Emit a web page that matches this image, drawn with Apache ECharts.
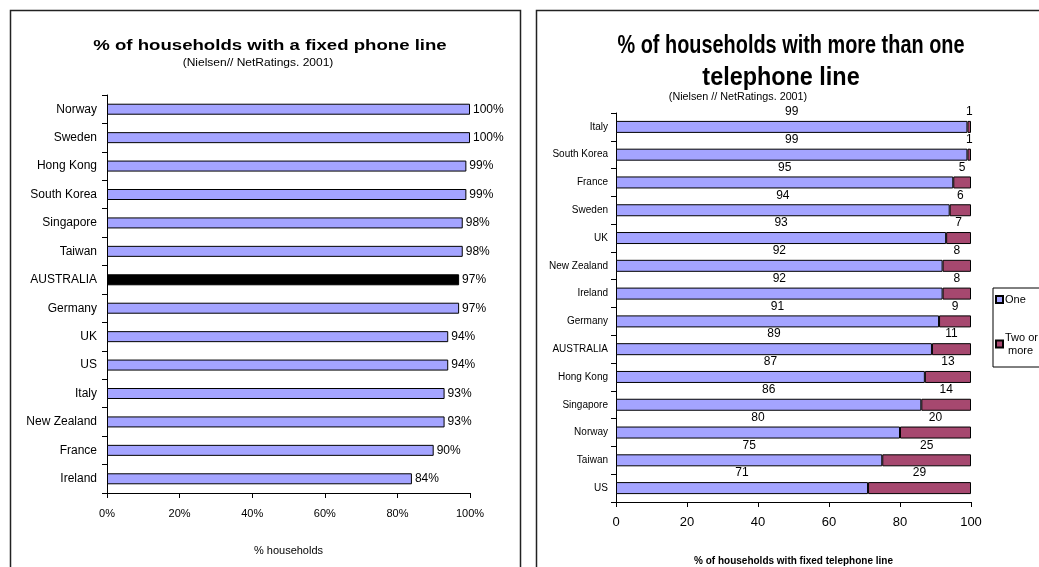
<!DOCTYPE html>
<html>
<head>
<meta charset="utf-8">
<script src="https://cdn.jsdelivr.net/npm/echarts@6/dist/echarts.min.js"></script>
<style>
html,body{margin:0;padding:0;background:#fff;}
#c{width:1039px;height:567px;}
</style>
</head>
<body>
<div id="c"></div>
<script>
// Left chart data
var fixedCategories = ['Norway','Sweden','Hong Kong','South Korea','Singapore','Taiwan','AUSTRALIA','Germany','UK','US','Italy','New Zealand','France','Ireland'];
var fixedValues = [100,100,99,99,98,98,97,97,94,94,93,93,90,84];
var pctTicks = [0,20,40,60,80,100];

// Right chart data
var multiCategories = ['Italy','South Korea','France','Sweden','UK','New Zealand','Ireland','Germany','AUSTRALIA','Hong Kong','Singapore','Norway','Taiwan','US'];
var oneLine = [99,99,95,94,93,92,92,91,89,87,86,80,75,71];
var twoOrMore = [1,1,5,6,7,8,8,9,11,13,14,20,25,29];
var seriesNames = ['One','Two or more'];

var BLUE = '#a4a4ff', PURPLE = '#a6486f';
var ARIAL = 'Liberation Sans, Arial, sans-serif';
var NARROW = 'Liberation Sans Narrow, Liberation Sans, Arial, sans-serif';

var chart = echarts.init(document.getElementById('c'), null, {renderer:'canvas'});

var axisLine = {show:true, lineStyle:{color:'#000', width:1}};
var tick = {show:true, length:5, lineStyle:{color:'#000'}};

var option = {
  animation:false,
  backgroundColor:'#fff',
  graphic:[
    {type:'rect', shape:{x:10.5,y:10.5,width:510,height:600}, style:{fill:'none', stroke:'#222', lineWidth:1.5}, z:-1},
    {type:'rect', shape:{x:536.5,y:10.5,width:600,height:600}, style:{fill:'none', stroke:'#222', lineWidth:1.5}, z:-1},
    {type:'text', x:270, y:46, scaleX:1.24, style:{text:'% of households with a fixed phone line', font:'bold 15px '+ARIAL, fill:'#000', align:'center', verticalAlign:'middle'}},
    {type:'text', x:258, y:63, scaleX:1.2, style:{text:'(Nielsen// NetRatings. 2001)', font:'10px '+ARIAL, fill:'#000', align:'center', verticalAlign:'middle'}},
    {type:'text', x:791, y:46, scaleX:0.765, style:{text:'% of households with more than one', font:'bold 26px '+ARIAL, fill:'#000', align:'center', verticalAlign:'middle'}},
    {type:'text', x:781, y:78, scaleX:0.9, style:{text:'telephone line', font:'bold 26px '+ARIAL, fill:'#000', align:'center', verticalAlign:'middle'}},
    {type:'text', x:738, y:97, scaleX:0.98, style:{text:'(Nielsen // NetRatings. 2001)', font:'11px '+ARIAL, fill:'#000', align:'center', verticalAlign:'middle'}}
  ],
  legend:{
    data:seriesNames,
    orient:'vertical',
    left:993, top:288,
    backgroundColor:'#fff',
    borderColor:'#000', borderWidth:1,
    padding:[5,20,10,2],
    itemGap:25,
    itemWidth:7, itemHeight:7,
    icon:'rect',
    textStyle:{fontFamily:NARROW, fontSize:11, color:'#000', lineHeight:13, padding:[0,0,0,-3]},
    formatter:function(n){ return n === 'Two or more' ? 'Two or\n more' : n; }
  },
  grid:[
    {left:107, top:95, width:363, height:398, outerBoundsMode:'none', containLabel:false},
    {left:616, top:113, width:355, height:389, outerBoundsMode:'none', containLabel:false}
  ],
  xAxis:[
    {gridIndex:0, type:'value', min:0, max:100, interval:20,
     axisLine:axisLine, axisTick:tick, splitLine:{show:false},
     axisLabel:{formatter:'{value}%', fontFamily:ARIAL, fontSize:11, color:'#000', margin:15},
     name:'% households', nameLocation:'middle', nameGap:52,
     nameTextStyle:{fontFamily:ARIAL, fontSize:11, color:'#000'}},
    {gridIndex:1, type:'value', min:0, max:100, interval:20,
     axisLine:axisLine, axisTick:tick, splitLine:{show:false},
     axisLabel:{fontFamily:NARROW, fontSize:13, color:'#000', margin:14},
     name:'% of households with fixed telephone line', nameLocation:'middle', nameGap:54,
     nameTextStyle:{fontFamily:NARROW, fontSize:10, fontWeight:'bold', color:'#000'}}
  ],
  yAxis:[
    {gridIndex:0, type:'category', data:fixedCategories, inverse:true,
     axisLine:axisLine, axisTick:tick,
     axisLabel:{fontFamily:ARIAL, fontSize:12, color:'#000', margin:10}},
    {gridIndex:1, type:'category', data:multiCategories, inverse:true,
     axisLine:axisLine, axisTick:tick,
     axisLabel:{fontFamily:NARROW, fontSize:10, color:'#000', margin:8}}
  ],
  series:[
    {type:'bar', xAxisIndex:0, yAxisIndex:0, barWidth:11,
     data:fixedValues.map(function(v,i){
       return {value:v, itemStyle:{color: fixedCategories[i]==='AUSTRALIA' ? '#000' : BLUE}};
     }),
     itemStyle:{borderColor:'#000', borderWidth:1},
     label:{show:true, position:'right', distance:3, formatter:'{c}%', fontFamily:ARIAL, fontSize:12, color:'#000'}},
    {type:'bar', name:seriesNames[0], xAxisIndex:1, yAxisIndex:1, stack:'s', barWidth:12,
     data:oneLine,
     itemStyle:{color:BLUE, borderColor:'#000', borderWidth:1},
     label:{show:true, position:'top', distance:3, fontFamily:NARROW, fontSize:12, color:'#000'}},
    {type:'bar', name:seriesNames[1], xAxisIndex:1, yAxisIndex:1, stack:'s', barWidth:12,
     data:twoOrMore,
     itemStyle:{color:PURPLE, borderColor:'#000', borderWidth:1},
     label:{show:true, position:'top', distance:3, fontFamily:NARROW, fontSize:12, color:'#000'}}
  ]
};
chart.setOption(option);
</script>
</body>
</html>
